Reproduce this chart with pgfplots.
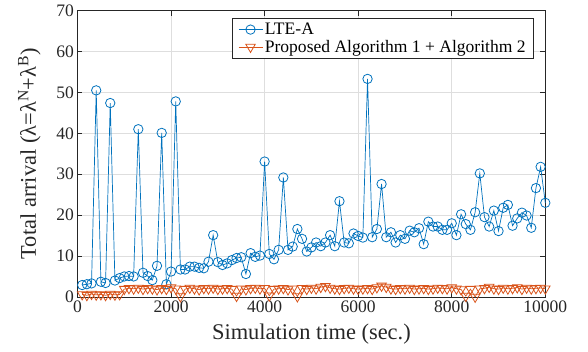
\documentclass[border=0pt]{standalone}
\usepackage{fontspec}
\setmainfont{Liberation Serif}
\usepackage{pgfplots}
\pgfplotsset{compat=1.18}
\definecolor{mblue}{rgb}{0,0.447,0.741}
\definecolor{morange}{rgb}{0.85,0.325,0.098}
\definecolor{axgray}{rgb}{0.15,0.15,0.15}
\begin{document}
\begin{tikzpicture}
\useasboundingbox (-77.5bp,-55.1bp) rectangle (510.5bp,296.9bp);
\begin{axis}[
  scale only axis, width=467.8bp, height=286.3bp,
  xmin=0, xmax=10000, ymin=0, ymax=70,
  xtick={0,2000,...,10000}, ytick={0,10,...,70},
  scaled x ticks=false,
  /pgf/number format/1000 sep={},
  /pgf/number format/assume math mode=true,
  tick align=inside, tick pos=both, major tick length=5bp,
  grid=major, major grid style={color=black!13, line width=0.5bp},
  axis line style={axgray, line width=0.6bp},
  tick style={axgray, line width=0.6bp},
  ticklabel style={font=\fontsize{17.6}{20}\selectfont, text=axgray},
  xlabel={Simulation time (sec.)},
  ylabel={Total arrival (λ=λ\textsuperscript{N}+λ\textsuperscript{B})},
  label style={font=\fontsize{22.5}{25}\selectfont, text=axgray},
  xlabel style={yshift=-5bp},
  ylabel style={yshift=9bp},
  clip=false,
  legend style={at={(0.330,0.975)}, anchor=north west, draw=axgray, line width=0.6bp,
    font=\fontsize{17.6}{20}\selectfont, text=black, inner xsep=6bp, inner ysep=3bp, row sep=0bp,
    nodes={inner xsep=2bp, inner ysep=2bp},
    legend cell align=left},
  legend image code/.code={\draw[mark repeat=2,mark phase=2] plot coordinates {(0bp,0bp) (12bp,0bp) (24bp,0bp)};},
]
\addplot[color=mblue, line width=0.7bp, mark=o, mark size=4.7bp, mark options={line width=0.8bp}] coordinates {
(100,2.9)(200,3.1)(300,3.3)(400,50.5)(500,3.7)(600,3.4)(700,47.4)(800,4.0)(900,4.6)(1000,5.0)
(1100,5.1)(1200,5.0)(1300,41.0)(1400,5.9)(1500,5.1)(1600,4.1)(1700,7.6)(1800,40.1)(1900,3.1)(2000,6.2)
(2100,47.8)(2200,6.7)(2300,6.7)(2400,7.4)(2500,7.4)(2600,7.1)(2700,7.0)(2800,8.6)(2900,15.1)(3000,8.5)
(3100,7.8)(3200,8.2)(3300,9.0)(3400,9.5)(3500,9.7)(3600,5.6)(3700,10.7)(3800,9.8)(3900,10.1)(4000,33.1)
(4100,10.5)(4200,9.2)(4300,11.5)(4400,29.2)(4500,11.5)(4600,12.3)(4700,16.6)(4800,14.2)(4900,11.1)(5000,12.1)
(5100,13.3)(5200,12.4)(5300,13.3)(5400,15.1)(5500,12.4)(5600,23.4)(5700,13.3)(5800,13.1)(5900,15.5)(6000,14.9)
(6100,14.5)(6200,53.3)(6300,14.6)(6400,16.6)(6500,27.6)(6600,14.6)(6700,15.8)(6800,13.3)(6900,15.1)(7000,14.2)
(7100,16.2)(7200,15.8)(7300,16.8)(7400,12.9)(7500,18.4)(7600,17.2)(7700,17.2)(7800,16.4)(7900,16.4)(8000,18.0)
(8100,15.1)(8200,20.2)(8300,17.8)(8400,16.4)(8500,20.7)(8600,30.2)(8700,19.5)(8800,17.2)(8900,21.1)(9000,16.1)
(9100,21.8)(9200,22.5)(9300,17.4)(9400,19.2)(9500,20.6)(9600,19.9)(9700,16.9)(9800,26.6)(9900,31.8)(10000,23.0)
};
\addlegendentry{LTE-A}
\addplot[color=morange, line width=0.7bp, mark=triangle, mark size=5.5bp, mark options={rotate=180, line width=0.8bp}] coordinates {
(100,0.6)(200,0.4)(300,0.7)(400,0.5)(500,0.6)(600,0.4)(700,0.7)(800,0.5)(900,0.6)(1000,1.9)
(1100,2.1)(1200,2.0)(1300,2.2)(1400,1.9)(1500,2.1)(1600,2.0)(1700,1.8)(1800,2.1)(1900,1.9)(2000,2.3)
(2100,2.0)(2200,0.1)(2300,1.9)(2400,2.2)(2500,2.0)(2600,1.8)(2700,2.1)(2800,2.0)(2900,2.2)(3000,1.9)
(3100,2.0)(3200,2.1)(3300,1.9)(3400,0.2)(3500,2.0)(3600,1.8)(3700,2.1)(3800,2.2)(3900,2.0)(4000,2.1)
(4100,0.3)(4200,1.9)(4300,2.0)(4400,2.1)(4500,1.8)(4600,2.0)(4700,0.1)(4800,2.1)(4900,1.9)(5000,2.2)
(5100,2.0)(5200,2.4)(5300,2.6)(5400,2.2)(5500,2.0)(5600,1.9)(5700,2.1)(5800,2.2)(5900,2.0)(6000,1.9)
(6100,2.0)(6200,2.1)(6300,1.9)(6400,2.3)(6500,2.7)(6600,2.4)(6700,2.0)(6800,1.9)(6900,2.1)(7000,2.0)
(7100,2.2)(7200,1.9)(7300,2.0)(7400,2.1)(7500,1.9)(7600,2.0)(7700,2.2)(7800,2.1)(7900,2.0)(8000,2.3)
(8100,2.0)(8200,1.8)(8300,0.2)(8400,1.9)(8500,0.0)(8600,2.0)(8700,2.1)(8800,2.4)(8900,2.0)(9000,1.9)
(9100,2.2)(9200,2.0)(9300,2.1)(9400,2.3)(9500,1.9)(9600,2.2)(9700,2.0)(9800,2.1)(9900,2.2)(10000,2.0)
};
\addlegendentry{Proposed Algorithm 1 + Algorithm 2}
\end{axis}
\end{tikzpicture}
\end{document}
